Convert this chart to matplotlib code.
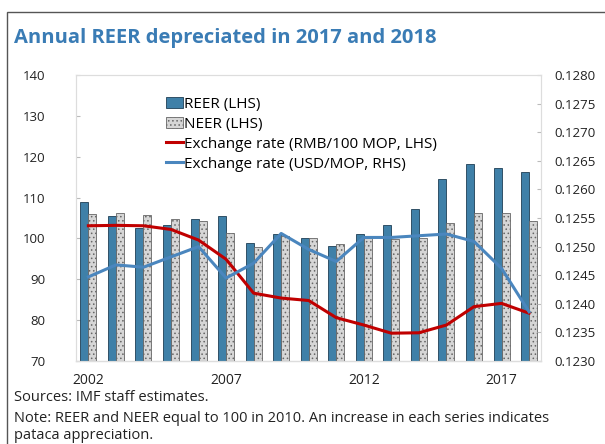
import numpy as np
import matplotlib
matplotlib.use("Agg")
import matplotlib.pyplot as plt
from matplotlib.patches import Rectangle

plt.rcParams['font.family'] = ['Open Sans', 'DejaVu Sans']
plt.rcParams['hatch.color'] = '#a8a8a8'
plt.rcParams['hatch.linewidth'] = 0.6

years = list(range(2002, 2019))
reer = [108.8, 105.6, 102.6, 103.3, 104.7, 105.4, 99.0, 101.0, 100.0, 98.2,
        101.0, 103.4, 107.2, 114.5, 118.1, 117.2, 116.3]
neer = [106.0, 106.3, 105.7, 104.7, 104.3, 101.3, 97.8, 100.6, 100.0, 98.7,
        100.0, 99.9, 100.0, 103.7, 106.3, 106.3, 104.3]
rmb_mop = [103.1, 103.2, 103.1, 102.2, 99.6, 94.9, 86.6, 85.4, 84.8, 80.6,
           78.8, 76.8, 76.9, 78.8, 83.3, 84.1, 81.7]
usd_mop = [0.12447, 0.12468, 0.12464, 0.12482, 0.12500, 0.12445, 0.12471, 0.12523,
           0.12495, 0.12474, 0.12516, 0.12516, 0.12519, 0.12522, 0.12509, 0.12462,
           0.12386]

fig = plt.figure(figsize=(6.05, 4.44), dpi=100)
# outer frame
fig.patches.append(Rectangle((7 / 605, -0.1), 1.2, 1.1 - 12 / 444,
                             transform=fig.transFigure, fill=False,
                             edgecolor='#555555', linewidth=1.0))

ax = fig.add_axes([0.1256, 0.187, 0.768, 0.644])
x = np.arange(len(years))
w = 0.29
ax.bar(x - w / 2, reer, w, color='#3f80a8', edgecolor='#1f3f55', linewidth=0.6,
       label='REER (LHS)', zorder=2)
ax.bar(x + w / 2, neer, w, color='#d6d6d6', edgecolor='#666666', linewidth=0.6,
       hatch='....', label='NEER (LHS)', zorder=2)
ln1, = ax.plot(x, rmb_mop, color='#c00000', linewidth=2.2,
               label='Exchange rate (RMB/100 MOP, LHS)', zorder=3)

ax2 = ax.twinx()
ln2, = ax2.plot(x, usd_mop, color='#4a86be', linewidth=2.2,
                label='Exchange rate (USD/MOP, RHS)', zorder=3)

ax.set_xlim(-0.45, 16.42)
ax.set_ylim(70, 140)
ax.set_yticks(range(70, 141, 10))
ax2.set_ylim(0.1230, 0.1280)
rticks = np.arange(0.1230, 0.12801, 0.0005)
ax2.set_yticks(rticks)
ax2.set_yticklabels(['%.4f' % v for v in rticks])

ax.set_xticks([0, 5, 10, 15])
ax.set_xticklabels(['2002', '2007', '2012', '2017'])

for a in (ax, ax2):
    for s in a.spines.values():
        s.set_color('#dddddd')
    a.tick_params(labelsize=9.5, colors='#222222', length=3, direction='in')
ax.spines['bottom'].set_color('#999999')
ax.tick_params(axis='x', length=0, pad=9, labelsize=10)
ax.tick_params(axis='y', color='#bbbbbb', pad=22)
ax2.tick_params(axis='y', color='#bbbbbb', pad=10)

h1, l1 = ax.get_legend_handles_labels()
# bars first, then lines
handles = [h1[1], h1[2], h1[0], ln2]
labels = [l1[1], l1[2], l1[0], ln2.get_label()]
ax2.legend(handles, labels, loc='upper left', bbox_to_anchor=(0.18, 0.945),
           frameon=False, fontsize=11, handlelength=1.1, handletextpad=0.1,
           labelspacing=0.32, borderaxespad=0)

fig.text(14 / 605, 1 - 38 / 444, 'Annual REER depreciated in 2017 and 2018',
         fontsize=14.5, fontweight='bold', color='#3a7cb5', va='center')
fig.text(14 / 605, 1 - 397 / 444, 'Sources: IMF staff estimates.',
         fontsize=10.5, va='center', color='#222222')
fig.text(14 / 605, 1 - 418 / 444,
         'Note: REER and NEER equal to 100 in 2010. An increase in each series indicates',
         fontsize=10.5, va='center', color='#222222')
fig.text(14 / 605, 1 - 435 / 444, 'pataca appreciation.',
         fontsize=10.5, va='center', color='#222222')

fig.savefig('out.png', dpi=100)
